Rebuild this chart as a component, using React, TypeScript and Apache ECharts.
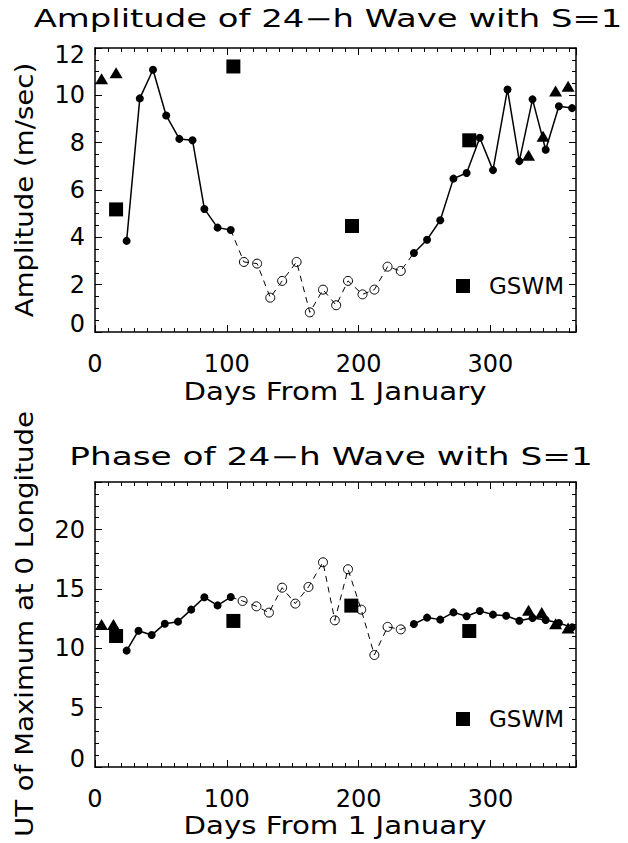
import React, { useEffect, useRef } from "react";
import * as echarts from "echarts";

// ---- Data (day of year, value) ----
const ampTriangles: [number, number][] = [[5, 10.7], [16, 10.95], [329, 7.47], [340, 8.27], [349.5, 10.18], [359, 10.38]];
const ampSquares: [number, number][] = [[16, 5.18], [105, 11.22], [195, 4.48], [284, 8.1]];
const ampSolidA: [number, number][] = [[24, 3.85], [34, 9.87], [44, 11.08], [54, 9.15], [64, 8.16], [74, 8.1], [83, 5.2], [93, 4.41], [103, 4.31]];
const ampOpen: [number, number][] = [[113, 2.96], [123, 2.89], [133, 1.45], [142, 2.16], [153, 2.96], [163, 0.83], [173, 1.79], [183, 1.13], [192, 2.16], [203, 1.59], [212, 1.79], [222, 2.76], [232, 2.58]];
const ampSolidB: [number, number][] = [[242, 3.34], [252, 3.9], [262, 4.72], [272, 6.48], [282, 6.72], [292, 8.21], [302, 6.84], [313, 10.25], [322, 7.22], [332, 9.83], [342, 7.7], [352, 9.54], [362, 9.46]];

const phaseTriangles: [number, number][] = [[5, 12.0], [14, 11.99], [329, 13.19], [339, 13.02], [349.5, 12.07], [359, 11.7]];
const phaseSquares: [number, number][] = [[16, 11.03], [105, 12.3], [194.5, 13.59], [284, 11.45]];
const phaseSolidA: [number, number][] = [[24, 9.8], [33, 11.48], [43, 11.11], [53, 12.07], [63, 12.24], [73, 13.25], [83, 14.29], [93, 13.61], [103, 14.31]];
const phaseOpen: [number, number][] = [[112, 13.98], [122.5, 13.53], [132, 13.0], [142, 15.1], [152, 13.76], [162, 15.16], [173, 17.24], [182, 12.35], [192, 16.65], [202, 13.25], [212, 9.43], [222, 11.8], [232, 11.59]];
const phaseSolidB: [number, number][] = [[242, 12.04], [252, 12.58], [262, 12.41], [272, 13.02], [282, 12.69], [292, 13.14], [302, 12.83], [312, 12.74], [322, 12.32], [332, 12.55], [342, 12.38], [352, 12.12], [362, 11.76]];

const titles = ["Amplitude of 24\u2212h Wave with S=1", "Phase of 24\u2212h Wave with S=1"];
const xName = "Days From 1 January";
const yNames = ["Amplitude (m/sec)", "UT of Maximum at 0 Longitude"];
const legendName = "GSWM";

const FONT = "DejaVu Sans";
const BLACK = "#000";

function xAxis(gridIndex: number, position: "bottom" | "top") {
  return {
    type: "value",
    gridIndex,
    position,
    min: 0,
    max: 365,
    interval: 100,
    axisLine: { show: true, onZero: false, lineStyle: { color: BLACK, width: 1.5 } },
    axisTick: { show: true, inside: true, length: 7, lineStyle: { color: BLACK, width: 1 } },
    minorTick: { show: true, splitNumber: 10, length: 4, lineStyle: { color: BLACK, width: 1 } },
    splitLine: { show: false },
    minorSplitLine: { show: false },
    axisLabel:
      position === "bottom"
        ? { show: true, fontSize: 24, fontFamily: FONT, color: BLACK, margin: 20, showMaxLabel: false }
        : { show: false },
  };
}

function yAxis(gridIndex: number, position: "left" | "right", max: number, interval: number, minorSplit: number) {
  const labelled = max % interval === 0;
  return {
    type: "value",
    gridIndex,
    position,
    min: 0,
    max,
    interval,
    axisLine: { show: true, onZero: false, lineStyle: { color: BLACK, width: 1.5 } },
    axisTick: { show: true, inside: true, length: 7, lineStyle: { color: BLACK, width: 1 } },
    minorTick: { show: true, splitNumber: minorSplit, length: 4, lineStyle: { color: BLACK, width: 1 } },
    splitLine: { show: false },
    minorSplitLine: { show: false },
    axisLabel:
      position === "left"
        ? {
            show: true,
            fontSize: 24,
            fontFamily: FONT,
            color: BLACK,
            margin: 10,
            showMaxLabel: labelled,
            formatter: (v: number) => (v === 0 ? `{lo|${v}}` : labelled && v === max ? `{hi|${v}}` : `{n|${v}}`),
            rich: {
              n: { fontSize: 24, fontFamily: FONT, color: BLACK },
              lo: { fontSize: 24, fontFamily: FONT, color: BLACK, padding: [0, 0, 16, 0] },
              hi: { fontSize: 24, fontFamily: FONT, color: BLACK, padding: [14, 0, 0, 0] },
            },
          }
        : { show: false },
  };
}

function panelSeries(
  axisIdx: number,
  solidA: [number, number][],
  open: [number, number][],
  solidB: [number, number][],
  triangles: [number, number][],
  squares: [number, number][]
) {
  const dashed = [solidA[solidA.length - 1], ...open, solidB[0]];
  return [
    {
      type: "line",
      xAxisIndex: axisIdx,
      yAxisIndex: axisIdx,
      data: dashed,
      showSymbol: false,
      symbol: "none",
      lineStyle: { color: BLACK, width: 1, type: [6, 5] },
      z: 2,
    },
    {
      type: "scatter",
      xAxisIndex: axisIdx,
      yAxisIndex: axisIdx,
      data: open,
      symbol: "circle",
      symbolSize: 9,
      itemStyle: { color: "rgba(0,0,0,0)", borderColor: BLACK, borderWidth: 1, opacity: 1 },
      z: 3,
    },
    {
      type: "line",
      xAxisIndex: axisIdx,
      yAxisIndex: axisIdx,
      data: solidA,
      symbol: "circle",
      symbolSize: 8,
      showSymbol: true,
      itemStyle: { color: BLACK, opacity: 1 },
      lineStyle: { color: BLACK, width: 1.5 },
      z: 4,
    },
    {
      type: "line",
      xAxisIndex: axisIdx,
      yAxisIndex: axisIdx,
      data: solidB,
      symbol: "circle",
      symbolSize: 8,
      showSymbol: true,
      itemStyle: { color: BLACK, opacity: 1 },
      lineStyle: { color: BLACK, width: 1.5 },
      z: 4,
    },
    {
      type: "scatter",
      xAxisIndex: axisIdx,
      yAxisIndex: axisIdx,
      data: triangles,
      symbol: "triangle",
      symbolSize: [13, 11],
      itemStyle: { color: BLACK, opacity: 1 },
      z: 5,
    },
    {
      name: legendName,
      type: "scatter",
      xAxisIndex: axisIdx,
      yAxisIndex: axisIdx,
      data: squares,
      symbol: "rect",
      symbolSize: 14,
      itemStyle: { color: BLACK, opacity: 1 },
      z: 6,
    },
  ];
}

function txt(text: string, x: number, y: number, scaleX: number, rotation = 0) {
  return {
    type: "text",
    x,
    y,
    rotation,
    scaleX,
    scaleY: 1,
    silent: true,
    style: {
      text,
      fontSize: 24,
      fontFamily: FONT,
      fill: BLACK,
      align: "center",
      verticalAlign: "middle",
      textAlign: "center",
      textVerticalAlign: "middle",
    },
  };
}

export default function App() {
  const ref = useRef<HTMLDivElement>(null);
  useEffect(() => {
    if (!ref.current) return;
    const chart = echarts.init(ref.current, undefined, { renderer: "svg" });
    const legendCommon = {
      data: [{ name: legendName, icon: "rect", itemStyle: { color: BLACK, opacity: 1 } }],
      orient: "horizontal",
      padding: 0,
      itemWidth: 14,
      itemHeight: 14,
      selectedMode: false,
      textStyle: { fontSize: 23, fontFamily: FONT, color: BLACK, lineHeight: 24, padding: [0, 0, 0, 14] },
    };
    chart.setOption({
      animation: false,
      backgroundColor: "#fff",
      grid: [
        { left: 95, top: 48, width: 481, height: 284 },
        { left: 95, top: 482, width: 481, height: 285 },
      ],
      xAxis: [xAxis(0, "bottom"), xAxis(0, "top"), xAxis(1, "bottom"), xAxis(1, "top")],
      yAxis: [
        yAxis(0, "left", 12, 2, 4),
        yAxis(0, "right", 12, 2, 4),
        yAxis(1, "left", 24, 5, 5),
        yAxis(1, "right", 24, 5, 5),
      ],
      legend: [
        { ...legendCommon, left: 456, top: 274 },
        { ...legendCommon, left: 456, top: 707 },
      ],
      series: [
        ...panelSeries(0, ampSolidA, ampOpen, ampSolidB, ampTriangles, ampSquares),
        ...panelSeries(2, phaseSolidA, phaseOpen, phaseSolidB, phaseTriangles, phaseSquares),
      ],
      graphic: [
        txt(titles[0], 328, 19, 1.41),
        txt(titles[1], 331, 457, 1.43),
        txt(xName, 335, 391, 1.22),
        txt(xName, 335, 825, 1.22),
        txt(yNames[0], 25, 190, 1.15, Math.PI / 2),
        txt(yNames[1], 25, 624, 1.15, Math.PI / 2),
      ],
    });
    return () => chart.dispose();
  }, []);
  return <div ref={ref} style={{ position: "absolute", left: 0, top: 0, width: 628, height: 843 }} />;
}
